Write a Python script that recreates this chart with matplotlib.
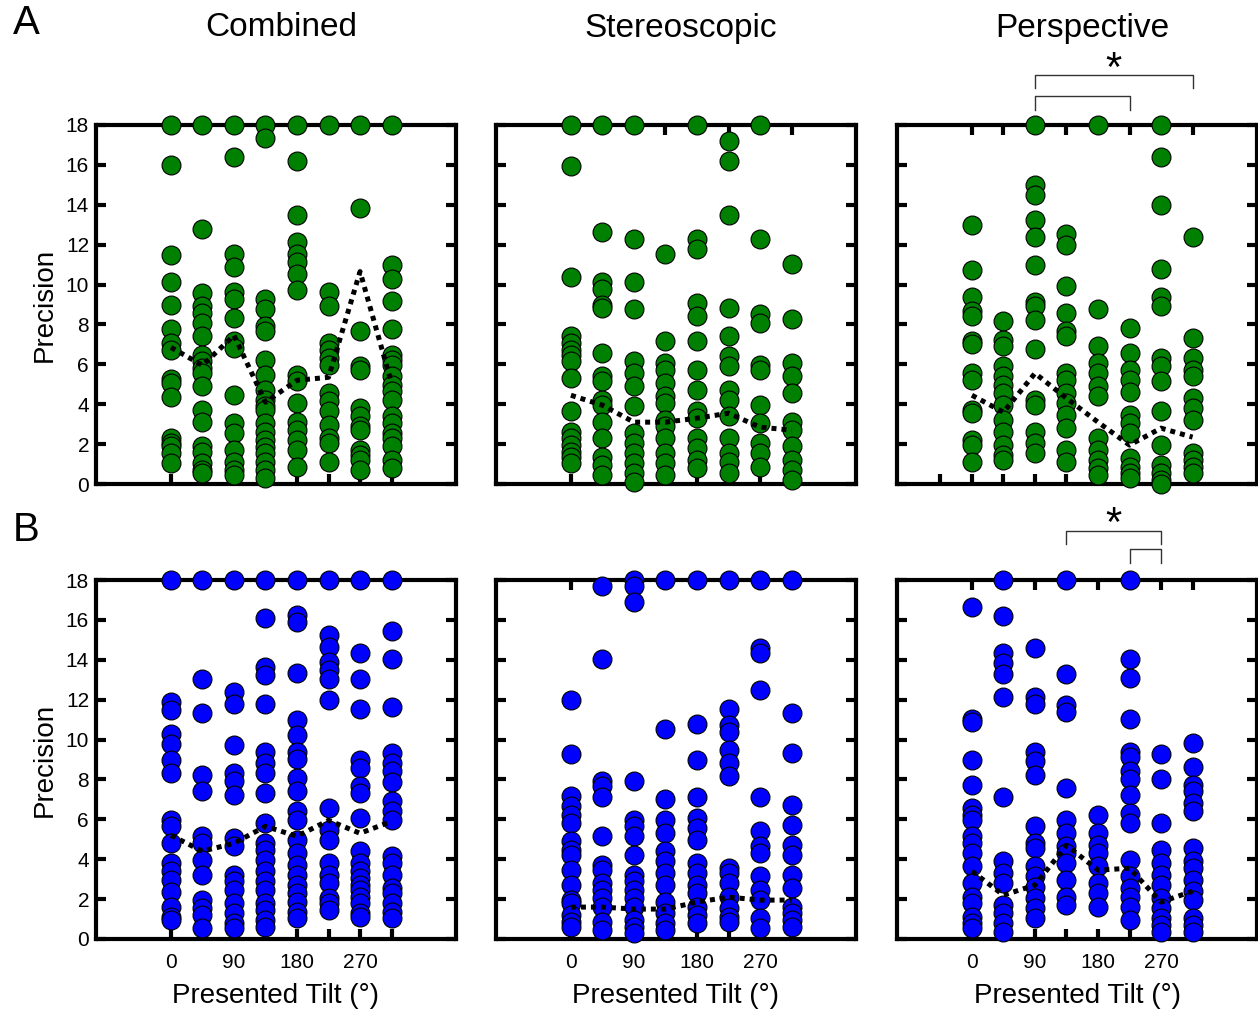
import matplotlib
matplotlib.use("Agg")
import matplotlib.pyplot as plt

plt.rcParams["font.family"] = ["Liberation Sans", "DejaVu Sans"]

tilts = [0, 45, 90, 135, 180, 225, 270, 315]
tick_labels = ["0", "", "90", "", "180", "", "270", ""]
conditions = ["Combined", "Stereoscopic", "Perspective"]

# precision values per presented tilt (one list per tilt), row A
combined_a = [
    [18, 16.0, 11.5, 10.15, 8.95, 7.75, 7.05, 6.7, 5.25, 5.05, 4.35, 2.3, 2.05, 1.9, 1.55, 1.05],
    [18, 12.8, 9.6, 8.9, 8.55, 8.05, 7.4, 6.45, 6.15, 5.8, 5.55, 4.9, 3.7, 3.1, 1.9, 1.6, 1.05, 0.7, 0.55],
    [18, 16.4, 11.55, 10.9, 9.65, 9.3, 8.3, 7.15, 6.8, 4.45, 3.05, 2.55, 1.7, 1.1, 0.7, 0.45],
    [18, 17.35, 9.3, 8.75, 7.9, 7.65, 6.2, 5.45, 4.7, 4.2, 3.9, 3.7, 3.05, 2.6, 2.2, 1.85, 1.55, 1.1, 0.7, 0.3],
    [18, 16.2, 13.5, 12.15, 11.55, 11.15, 10.55, 9.75, 5.45, 5.15, 4.05, 3.1, 2.7, 2.2, 1.7, 0.85],
    [18, 9.65, 8.9, 7.05, 6.7, 6.3, 5.95, 4.55, 4.15, 3.65, 2.95, 2.3, 2.05, 1.1],
    [18, 13.85, 7.65, 5.9, 5.7, 3.8, 3.4, 2.9, 2.7, 1.7, 1.45, 1.2, 0.7],
    [18, 11.0, 10.3, 9.2, 7.75, 6.45, 6.2, 5.95, 5.4, 4.95, 4.65, 4.2, 3.4, 3.05, 2.55, 2.3, 1.9, 1.2, 0.8],
]
stereo_a = [
    [18, 15.95, 10.4, 7.4, 7.05, 6.7, 6.45, 6.15, 5.3, 3.65, 2.6, 2.3, 1.95, 1.6, 1.35, 1.05],
    [18, 12.65, 10.15, 9.8, 9.0, 8.8, 6.55, 5.4, 5.15, 4.2, 3.95, 3.1, 2.3, 1.35, 0.95, 0.45],
    [18, 12.3, 10.15, 8.75, 6.15, 5.55, 4.9, 3.9, 2.55, 2.05, 1.55, 1.05, 0.55, 0.1],
    [11.55, 7.15, 6.05, 5.7, 5.05, 4.4, 4.05, 3.2, 2.9, 2.3, 1.55, 1.05, 0.45],
    [18, 12.3, 11.8, 9.1, 8.4, 7.15, 5.7, 4.7, 3.65, 3.3, 2.3, 1.8, 1.2, 0.8],
    [17.2, 16.2, 13.5, 8.8, 7.4, 6.4, 5.9, 4.7, 4.2, 3.4, 2.3, 1.55, 1.1, 0.55],
    [18, 12.3, 8.5, 8.05, 5.95, 5.7, 3.95, 3.05, 2.05, 1.55, 0.85],
    [11.05, 8.25, 6.05, 5.4, 4.55, 3.1, 2.7, 1.9, 1.2, 0.7, 0.2],
]
persp_a = [
    [13.0, 10.75, 9.4, 8.65, 8.4, 7.15, 7.0, 5.55, 5.2, 3.7, 3.55, 2.2, 1.95, 1.1],
    [8.15, 7.2, 6.9, 5.9, 5.4, 4.95, 4.55, 3.95, 3.2, 2.6, 1.95, 1.45, 1.2],
    [18, 15.0, 14.5, 13.25, 12.4, 11.0, 9.15, 8.9, 8.2, 6.75, 4.2, 3.95, 2.6, 2.05, 1.55],
    [12.55, 12.0, 9.95, 8.55, 7.65, 7.4, 5.55, 5.2, 4.55, 4.05, 3.45, 2.8, 1.7, 1.1],
    [18, 8.75, 6.9, 6.05, 5.55, 4.9, 4.4, 2.3, 1.7, 1.2, 0.8, 0.45],
    [7.8, 6.55, 5.7, 5.2, 4.6, 3.45, 3.05, 2.55, 1.3, 0.85, 0.55, 0.3],
    [18, 16.4, 14.0, 10.8, 9.4, 8.9, 6.3, 5.9, 5.15, 3.65, 1.95, 0.95, 0.55, 0.2, 0.0],
    [12.4, 7.3, 6.3, 5.7, 5.4, 4.3, 3.8, 3.2, 1.55, 1.2, 0.85, 0.55],
]

# row B
combined_b = [
    [18, 11.9, 11.5, 10.3, 9.8, 8.95, 8.3, 5.95, 5.65, 4.8, 3.8, 3.4, 2.95, 2.35, 1.6, 1.1, 0.95],
    [18, 13.05, 11.35, 8.2, 7.4, 5.15, 4.8, 3.95, 3.2, 1.95, 1.55, 1.2, 0.55],
    [18, 12.4, 11.8, 9.75, 8.3, 7.9, 7.2, 5.05, 4.65, 3.2, 2.9, 2.45, 1.8, 1.3, 0.8, 0.55],
    [18, 16.1, 13.65, 13.25, 11.8, 9.4, 8.8, 8.3, 7.3, 5.8, 4.8, 4.45, 3.95, 3.4, 2.9, 2.45, 1.8, 1.45, 0.95, 0.6],
    [18, 16.25, 15.9, 13.35, 11.0, 10.25, 9.4, 9.05, 8.05, 7.4, 6.4, 5.95, 4.95, 4.3, 3.7, 3.2, 2.7, 2.3, 1.85, 1.35, 1.05],
    [18, 15.25, 14.65, 13.9, 13.5, 13.05, 12.0, 6.55, 5.45, 4.95, 3.8, 3.2, 2.8, 2.05, 1.8, 1.45],
    [18, 14.35, 13.05, 11.55, 8.95, 8.55, 7.65, 7.3, 6.05, 4.4, 3.8, 3.4, 3.05, 2.7, 2.45, 2.1, 1.8, 1.3, 1.1],
    [18, 15.45, 14.05, 11.65, 9.35, 8.8, 8.4, 7.85, 6.9, 6.4, 5.95, 4.15, 3.8, 3.2, 2.55, 2.3, 1.8, 1.35, 1.05],
]
stereo_b = [
    [12.0, 9.3, 7.15, 6.65, 6.2, 5.8, 4.9, 4.45, 4.2, 3.45, 2.7, 1.95, 1.8, 1.2, 0.85, 0.6],
    [17.7, 14.05, 7.9, 7.65, 7.1, 5.15, 3.7, 3.45, 2.8, 2.45, 2.05, 1.6, 0.85, 0.45],
    [18, 17.7, 16.9, 7.9, 5.95, 5.65, 5.15, 4.2, 3.2, 2.9, 2.45, 2.05, 1.6, 0.95, 0.6, 0.3],
    [18, 10.55, 7.0, 5.95, 5.3, 4.4, 3.9, 3.3, 2.7, 1.85, 1.3, 0.8, 0.45],
    [18, 10.8, 9.0, 7.1, 6.05, 5.55, 4.95, 3.8, 3.3, 2.7, 2.3, 1.6, 1.2, 0.8],
    [18, 11.55, 10.75, 10.4, 9.5, 8.8, 8.15, 3.55, 3.3, 2.8, 2.1, 1.55, 1.1, 0.85],
    [18, 14.6, 14.35, 12.5, 7.1, 5.4, 4.65, 4.3, 3.15, 2.45, 1.95, 1.05, 0.55],
    [18, 11.35, 9.35, 6.7, 5.7, 4.7, 4.2, 3.2, 2.55, 1.6, 1.3, 0.95, 0.6],
]
persp_b = [
    [16.65, 11.05, 10.9, 9.0, 7.7, 6.55, 6.2, 5.95, 5.15, 4.8, 4.3, 3.65, 2.8, 2.1, 1.8, 1.1, 0.8, 0.55],
    [18, 16.2, 14.35, 13.85, 13.3, 12.15, 7.1, 3.9, 3.3, 2.8, 1.7, 1.3, 0.8, 0.35],
    [14.6, 12.15, 11.8, 9.4, 8.9, 8.2, 5.65, 4.8, 4.55, 3.65, 3.15, 2.6, 2.05, 1.55, 1.05],
    [18, 13.3, 11.75, 11.4, 7.55, 5.95, 5.3, 4.65, 4.3, 3.8, 2.95, 2.1, 1.7],
    [6.2, 5.3, 4.7, 4.3, 3.65, 2.8, 2.3, 1.6],
    [18, 14.05, 13.1, 11.05, 9.4, 9.15, 8.4, 8.0, 7.2, 6.3, 5.8, 3.95, 3.15, 2.55, 2.1, 1.6, 0.95],
    [9.3, 8.0, 5.8, 4.45, 3.8, 3.2, 2.7, 2.05, 1.55, 1.05, 0.7, 0.35],
    [9.85, 8.6, 7.7, 7.4, 6.8, 6.4, 4.55, 3.9, 3.55, 2.95, 2.4, 1.95, 1.05, 0.7, 0.35],
]

# dotted summary line per panel
median_combined_a = [6.85, 5.95, 7.45, 4.1, 5.2, 5.35, 10.65, 5.05]
median_stereo_a = [4.45, 3.95, 3.1, 3.1, 3.3, 3.55, 2.85, 2.7]
median_persp_a = [4.45, 3.6, 5.55, 4.3, 3.1, 1.95, 2.8, 2.35]
median_combined_b = [5.2, 4.4, 4.8, 5.65, 5.15, 5.95, 5.3, 5.9]
median_stereo_b = [1.6, 1.6, 1.5, 1.5, 1.85, 2.1, 1.95, 1.95]
median_persp_b = [3.4, 2.2, 2.7, 4.7, 3.45, 3.55, 1.85, 2.4]

# significance brackets: (left tilt, right tilt, bar height, leg end)
brackets_a = [(90, 315, 20.5, 19.85), (90, 225, 19.45, 18.75)]
brackets_b = [(135, 270, 20.45, 19.8), (225, 270, 19.55, 18.85)]

rows = [
    ("A", 23, "#008000", [combined_a, stereo_a, persp_a],
     [median_combined_a, median_stereo_a, median_persp_a], brackets_a, 20.75),
    ("B", 530, "#0000ff", [combined_b, stereo_b, persp_b],
     [median_combined_b, median_stereo_b, median_persp_b], brackets_b, 20.75),
]

W, H = 1258, 1009
fig = plt.figure(figsize=(W / 100, H / 100), dpi=100)

lefts = [96, 496, 897]
tops = [125, 580]
aw, ah = 360, 359

for r, (letter, letter_y, color, panels, medians, brackets, star_y) in enumerate(rows):
    top = tops[r]
    fig.text(26 / W, 1 - letter_y / H, letter, fontsize=29, ha="center", va="center")
    for c in range(3):
        ax = fig.add_axes([lefts[c] / W, 1 - (top + ah) / H, aw / W, ah / H])
        for t, vals in zip(tilts, panels[c]):
            ax.scatter([t] * len(vals), vals, s=185, color=color, edgecolor="black",
                       linewidth=0.8, zorder=3, clip_on=False)
        ax.plot(tilts, medians[c], color="black", lw=3.6, ls=(0, (1, 1.0)),
                zorder=4, clip_on=False)

        ax.set_xlim(-107, 407)
        ax.set_ylim(0, 18)
        ax.set_xticks(tilts)
        ax.set_yticks(range(0, 19, 2))
        for s in ax.spines.values():
            s.set_linewidth(3)
        ax.tick_params(direction="in", length=7, width=3, top=True, right=True,
                       labelsize=15, pad=5)
        ax.tick_params(axis="x", pad=10)

        if r == 1:
            ax.set_xticklabels(tick_labels)
            ax.set_xlabel("Presented Tilt (°)", fontsize=20, labelpad=8)
        else:
            ax.set_xticklabels([])
            fig.text((lefts[c] + aw / 2 + 5) / W, 1 - 28 / H, conditions[c],
                     fontsize=24, ha="center", va="center")
        if c == 0:
            ax.set_ylabel("Precision", fontsize=20, labelpad=6)
        else:
            ax.set_yticklabels([])

        if c == 2:
            if r == 0:
                ax.set_xticks([-45], minor=True)
                ax.tick_params(which="minor", direction="in", length=7, width=3,
                               top=False, bottom=True)
            for x0, x1, yb, yl in brackets:
                ax.plot([x0, x0, x1, x1], [yl, yb, yb, yl], color="#333333",
                        lw=1.0, clip_on=False)
            xs = [b[0] for b in brackets] + [b[1] for b in brackets]
            ax.text((min(xs) + max(xs)) / 2, star_y, "*", fontsize=30,
                    ha="center", va="center")

fig.savefig("out.png", dpi=100)
